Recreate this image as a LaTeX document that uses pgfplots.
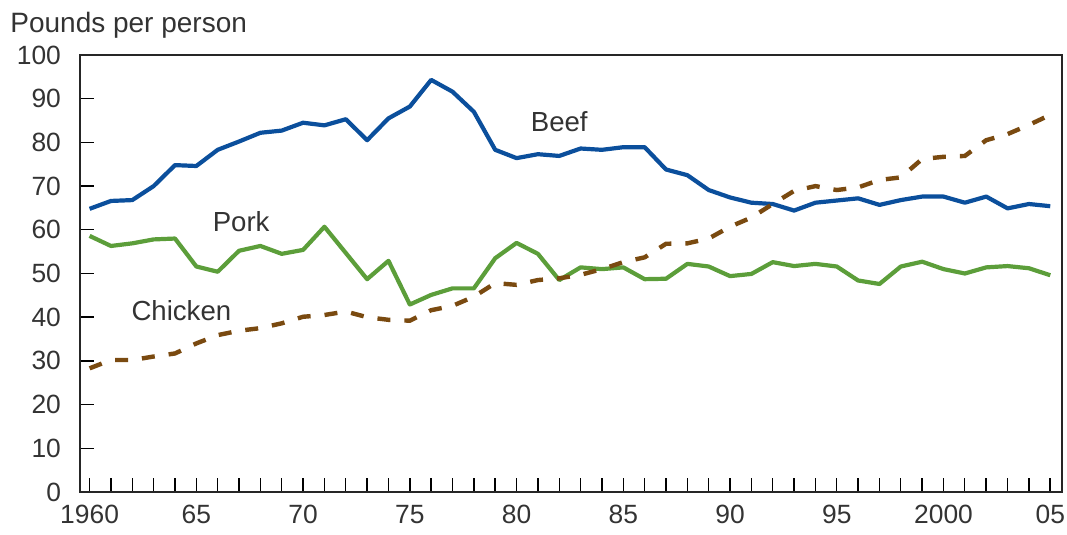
\documentclass[border=0pt]{standalone}
\usepackage{pgfplots}
\pgfplotsset{compat=1.18}
\usepackage{fontspec}
\setmainfont{Liberation Sans}
\usetikzlibrary{calc}
\definecolor{beef}{HTML}{0B4F9C}
\definecolor{pork}{HTML}{5C9E3A}
\definecolor{chicken}{HTML}{7A4A10}
\definecolor{txt}{HTML}{333333}
\begin{document}
\begin{tikzpicture}
\begin{axis}[
  name=ax,
  scale only axis,
  width=491pt, height=218.5pt,
  xmin=1959.55, xmax=2005.55,
  ymin=0, ymax=100,
  xtick={1960,1965,...,2005},
  xticklabels={1960,65,70,75,80,85,90,95,2000,05},
  minor xtick={1960,...,2005},
  ytick={0,10,...,100},
  tick align=inside,
  xtick pos=bottom, ytick pos=left,
  major tick length=7pt, minor tick length=7pt,
  tick style={black, line width=0.7pt},
  axis line style={black!85, line width=0.8pt},
  /pgf/number format/assume math mode=true,
  /pgf/number format/1000 sep={},
  ticklabel style={font=\fontsize{13.2}{15}\selectfont, text=txt},
  xticklabel style={yshift=-3pt},
  yticklabel style={xshift=-6pt},
  clip=false,
]
\addplot[beef, line width=2.1pt, line join=round] coordinates {
(1960,64.8)(1961,66.6)(1962,66.8)(1963,70.0)(1964,74.8)(1965,74.6)(1966,78.3)(1967,80.2)(1968,82.2)(1969,82.7)
(1970,84.5)(1971,83.9)(1972,85.3)(1973,80.5)(1974,85.5)(1975,88.2)(1976,94.3)(1977,91.6)(1978,87.0)(1979,78.3)
(1980,76.4)(1981,77.3)(1982,76.9)(1983,78.6)(1984,78.3)(1985,78.9)(1986,78.9)(1987,73.8)(1988,72.5)(1989,69.1)
(1990,67.4)(1991,66.2)(1992,65.9)(1993,64.4)(1994,66.2)(1995,66.7)(1996,67.2)(1997,65.7)(1998,66.8)(1999,67.6)
(2000,67.6)(2001,66.2)(2002,67.6)(2003,64.9)(2004,65.9)(2005,65.4)};
\addplot[pork, line width=2.1pt, line join=round] coordinates {
(1960,58.6)(1961,56.3)(1962,56.9)(1963,57.8)(1964,58.0)(1965,51.6)(1966,50.4)(1967,55.2)(1968,56.3)(1969,54.5)
(1970,55.4)(1971,60.7)(1972,54.7)(1973,48.7)(1974,52.9)(1975,42.9)(1976,45.1)(1977,46.6)(1978,46.6)(1979,53.5)
(1980,57.0)(1981,54.5)(1982,48.5)(1983,51.4)(1984,51.0)(1985,51.4)(1986,48.7)(1987,48.8)(1988,52.2)(1989,51.6)
(1990,49.4)(1991,49.9)(1992,52.6)(1993,51.7)(1994,52.2)(1995,51.6)(1996,48.4)(1997,47.6)(1998,51.6)(1999,52.7)
(2000,51.0)(2001,50.0)(2002,51.4)(2003,51.7)(2004,51.2)(2005,49.6)};
\addplot[chicken, line width=2.2pt, dash pattern=on 6.5pt off 7pt] coordinates {
(1960,28.3)(1961,30.2)(1962,30.2)(1963,31.0)(1964,31.7)(1965,34.0)(1966,35.9)(1967,36.9)(1968,37.5)(1969,38.6)
(1970,40.1)(1971,40.5)(1972,41.3)(1973,40.0)(1974,39.4)(1975,39.2)(1976,41.6)(1977,42.6)(1978,44.7)(1979,47.8)
(1980,47.4)(1981,48.5)(1982,48.9)(1983,49.7)(1984,51.0)(1985,52.6)(1986,53.7)(1987,56.8)(1988,56.9)(1989,58.0)
(1990,60.7)(1991,62.8)(1992,65.9)(1993,68.9)(1994,70.0)(1995,69.1)(1996,69.7)(1997,71.4)(1998,72.0)(1999,76.2)
(2000,76.7)(2001,76.9)(2002,80.5)(2003,81.9)(2004,84.0)(2005,86.3)};
\node[text=txt, font=\fontsize{13.8}{16}\selectfont] at (axis cs:1982.0,84.7) {Beef};
\node[text=txt, font=\fontsize{13.8}{16}\selectfont] at (axis cs:1967.1,61.8) {Pork};
\node[text=txt, font=\fontsize{13.8}{16}\selectfont] at (axis cs:1964.3,41.6) {Chicken};
\end{axis}
\node[anchor=base west, text=txt, font=\fontsize{14}{16}\selectfont, inner sep=0pt] at ($(ax.north west)+(-35pt,11pt)$) {Pounds per person};
\pgfresetboundingbox
\path ($(ax.south west)+(-40pt,-21pt)$) rectangle ($(ax.north east)+(2.5pt,27.5pt)$);
\end{tikzpicture}
\end{document}
